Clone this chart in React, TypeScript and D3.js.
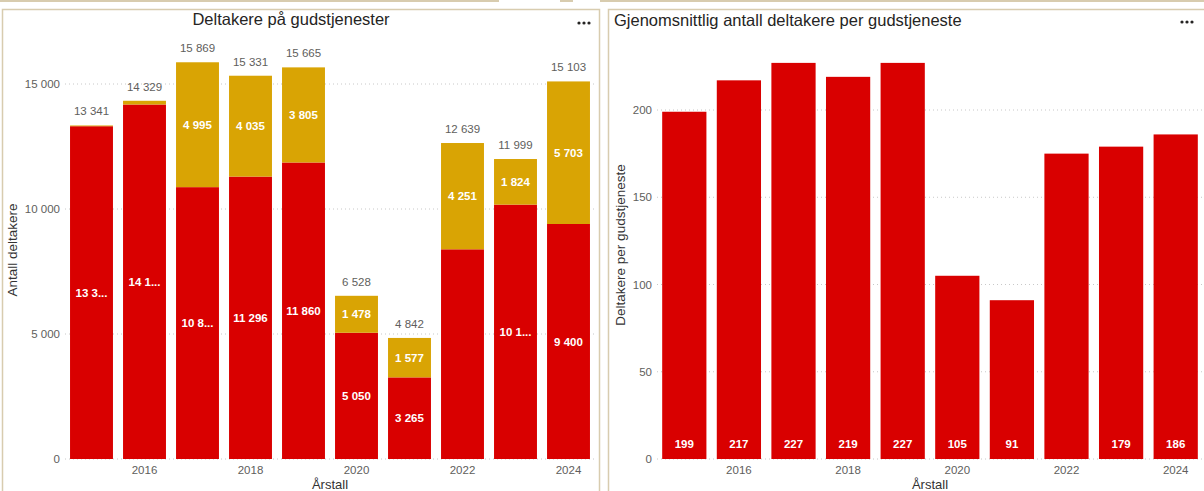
import React from "react";
import * as d3 from "d3";

const years = ["2015", "2016", "2017", "2018", "2019", "2020", "2021", "2022", "2023", "2024"];
const redValues = [13311, 14179, 10874, 11296, 11860, 5050, 3265, 8388, 10175, 9400];
const goldValues = [30, 150, 4995, 4035, 3805, 1478, 1577, 4251, 1824, 5703];
const redLabelShown = [true, true, true, true, true, true, true, false, true, true];
const redLabelTruncated = [true, true, true, false, false, false, false, false, true, false];
const goldLabelShown = [false, false, true, true, true, true, true, true, true, true];
const leftTicks = [0, 5000, 10000, 15000];

const avgValues = [199, 217, 227, 219, 227, 105, 91, 175, 179, 186];
const avgLabelShown = [true, true, true, true, true, true, true, false, true, true];
const rightTicks = [0, 50, 100, 150, 200];
const xTickYears = ["2016", "2018", "2020", "2022", "2024"];

const RED = "#d90000";
const GOLD = "#d9a404";
const FONT = "'Liberation Sans', Arial, sans-serif";

const fmt = (v: number) => {
  const s = Math.round(v).toString();
  return s.replace(/\B(?=(\d{3})+(?!\d))/g, " ");
};
const trunc = (s: string) => s.slice(0, 4) + "...";

function Dots({ x, y }: { x: number; y: number }) {
  return (
    <g fill="#252423">
      {[0, 5, 10].map((d) => (
        <circle key={d} cx={x + d} cy={y} r={1.6} />
      ))}
    </g>
  );
}

export default function App() {
  const W = 1204, H = 491;
  const xL = d3.scaleBand<string>().domain(years).range([65, 595]).paddingInner(0.19).paddingOuter(0.095);
  const yL = d3.scaleLinear().domain([0, 15000]).range([459, 84]);
  const xR = d3.scaleBand<string>().domain(years).range([657, 1203]).paddingInner(0.19).paddingOuter(0.095);
  const yR = d3.scaleLinear().domain([0, 200]).range([459, 110]);

  return (
    <svg width={W} height={H} style={{ position: "absolute", left: 0, top: 0, display: "block", background: "#fff" }} fontFamily={FONT}>
      <line x1={0} x2={499} y1={1} y2={1} stroke="#d8ccaf" strokeWidth={2} />
      <line x1={560} x2={573} y1={1} y2={1} stroke="#d8ccaf" strokeWidth={2} />
      <line x1={600} x2={1204} y1={1} y2={1} stroke="#d8ccaf" strokeWidth={2} />
      <rect x={2.5} y={9.5} width={597} height={500} fill="#fff" stroke="#d8ccaf" strokeWidth={1.5} />
      <rect x={608.5} y={9.5} width={620} height={500} fill="#fff" stroke="#d8ccaf" strokeWidth={1.5} />

      {/* LEFT CHART */}
      <text x={291} y={25} textAnchor="middle" fontSize={16.5} fill="#252423">Deltakere på gudstjenester</text>
      <Dots x={579} y={23} />
      {leftTicks.map((t) => (
        <g key={t}>
          <line x1={65} x2={595} y1={yL(t)} y2={yL(t)} stroke="#c8c8c8" strokeDasharray="1,3" />
          <text x={60} y={yL(t) + 4} textAnchor="end" fontSize={11.5} fill="#605e5c">{fmt(t)}</text>
        </g>
      ))}
      {years.map((yr, i) => {
        const x = xL(yr)!;
        const bw = xL.bandwidth();
        const r = redValues[i];
        const g = goldValues[i];
        const total = r + g;
        const redLbl = redLabelTruncated[i] ? trunc(fmt(r)) : fmt(r);
        return (
          <g key={yr}>
            <rect x={x} y={yL(r)} width={bw} height={yL(0) - yL(r)} fill={RED} />
            <rect x={x} y={yL(total)} width={bw} height={yL(r) - yL(total)} fill={GOLD} />
            {redLabelShown[i] && (
              <text x={x + bw / 2} y={(yL(0) + yL(r)) / 2 + 4} textAnchor="middle" fontSize={11.5} fontWeight="bold" fill="#fff">{redLbl}</text>
            )}
            {goldLabelShown[i] && (
              <text x={x + bw / 2} y={(yL(r) + yL(total)) / 2 + 4} textAnchor="middle" fontSize={11.5} fontWeight="bold" fill="#fff">{fmt(g)}</text>
            )}
            <text x={x + bw / 2} y={yL(total) - 10} textAnchor="middle" fontSize={11.5} fill="#605e5c">{fmt(total)}</text>
          </g>
        );
      })}
      {xTickYears.map((yr) => (
        <text key={yr} x={xL(yr)! + xL.bandwidth() / 2} y={474} textAnchor="middle" fontSize={11.5} fill="#605e5c">{yr}</text>
      ))}
      <text x={330} y={489} textAnchor="middle" fontSize={13} fill="#333">Årstall</text>
      <text transform={`translate(17,250) rotate(-90)`} textAnchor="middle" fontSize={13.5} fill="#333">Antall deltakere</text>

      {/* RIGHT CHART */}
      <text x={614} y={26} textAnchor="start" fontSize={16.5} fill="#252423">Gjenomsnittlig antall deltakere per gudstjeneste</text>
      <Dots x={1182} y={22} />
      {rightTicks.map((t) => (
        <g key={t}>
          <line x1={657} x2={1203} y1={yR(t)} y2={yR(t)} stroke="#c8c8c8" strokeDasharray="1,3" />
          <text x={652} y={yR(t) + 4} textAnchor="end" fontSize={11.5} fill="#605e5c">{t}</text>
        </g>
      ))}
      {years.map((yr, i) => {
        const x = xR(yr)!;
        const bw = xR.bandwidth();
        const v = avgValues[i];
        return (
          <g key={yr}>
            <rect x={x} y={yR(v)} width={bw} height={yR(0) - yR(v)} fill={RED} />
            {avgLabelShown[i] && (
              <text x={x + bw / 2} y={448} textAnchor="middle" fontSize={11.5} fontWeight="bold" fill="#fff">{fmt(v)}</text>
            )}
          </g>
        );
      })}
      {xTickYears.map((yr) => (
        <text key={yr} x={xR(yr)! + xR.bandwidth() / 2} y={474} textAnchor="middle" fontSize={11.5} fill="#605e5c">{yr}</text>
      ))}
      <text x={930} y={489} textAnchor="middle" fontSize={13} fill="#333">Årstall</text>
      <text transform={`translate(625,245) rotate(-90)`} textAnchor="middle" fontSize={13.5} fill="#333">Deltakere per gudstjeneste</text>
    </svg>
  );
}
